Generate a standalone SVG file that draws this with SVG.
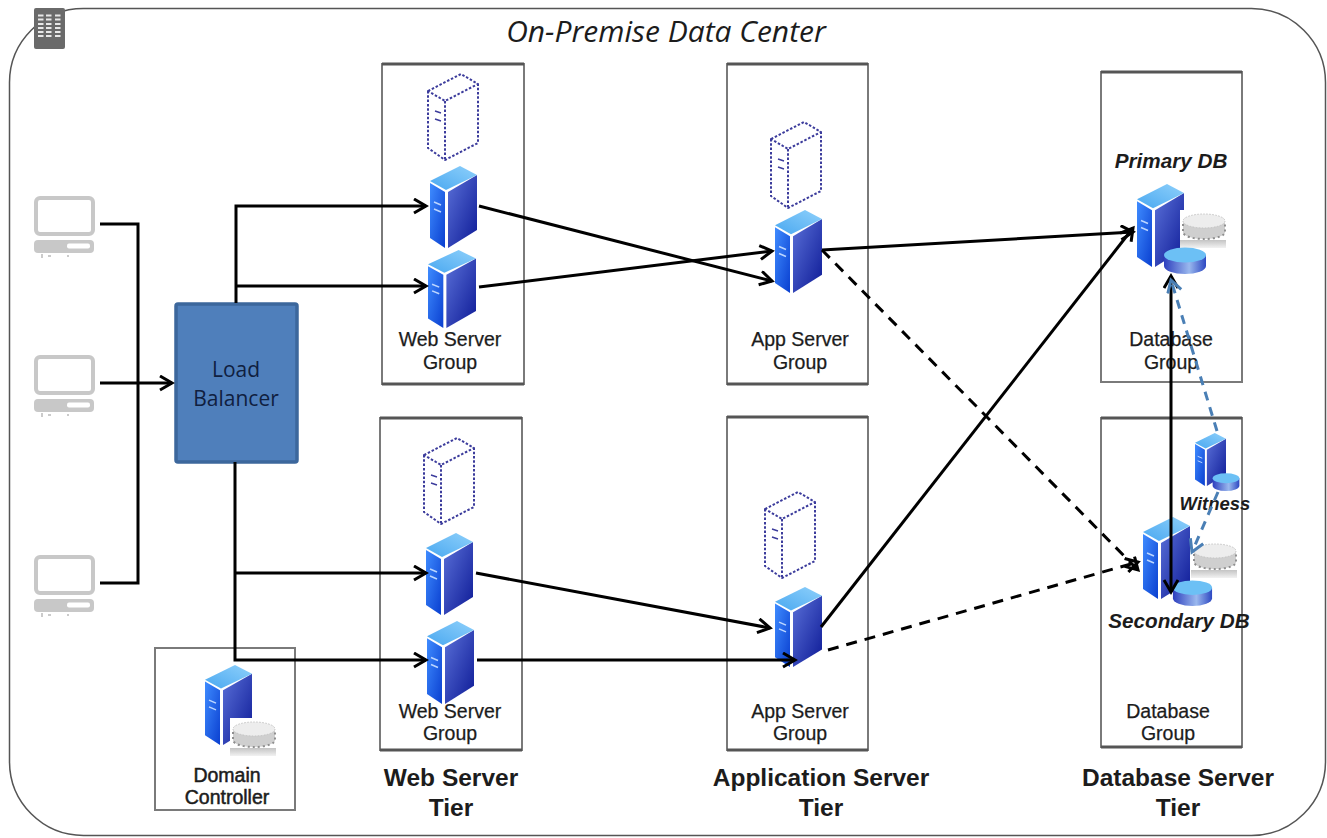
<svg xmlns="http://www.w3.org/2000/svg" width="1327" height="838" viewBox="0 0 1327 838">
<style>
text{font-family:"Liberation Sans",Arial,sans-serif;fill:#1c1c1c;text-anchor:middle}
.lbl{font-size:19.500px;stroke:#1c1c1c;stroke-width:.25}
.ctl{font-size:19.500px;stroke:#1c1c1c;stroke-width:.5}
.tier{font-size:24.500px;font-weight:bold}
.db{font-size:20.700px;font-weight:bold;font-style:italic}
.wit{font-size:18.500px;font-weight:bold;font-style:italic}
.title{font-family:"Open Sans",sans-serif;font-size:30px;font-style:italic}
.lb{font-family:"Open Sans",sans-serif;font-size:21px;fill:#10203f}
.frame{fill:#fff;stroke:#7a7a7a;stroke-width:2}
.frametop{stroke:#555;stroke-width:3;fill:none}
.c{fill:none;stroke:#000;stroke-width:3}
.d{stroke-dasharray:11 8}
.b{fill:none;stroke:#4a7fb5;stroke-width:3;stroke-dasharray:9 7}
</style>
<defs>
<linearGradient id="gl" x1="0" y1="0" x2="1" y2="1"><stop offset="0" stop-color="#3f8cff"/><stop offset="1" stop-color="#0a3fd0"/></linearGradient>
<linearGradient id="gr" x1="0" y1="0" x2="1" y2="1"><stop offset="0" stop-color="#5a70d8"/><stop offset="1" stop-color="#0d1a96"/></linearGradient>
<linearGradient id="gt" x1="0" y1="1" x2="1" y2="0"><stop offset="0" stop-color="#4aa8f0"/><stop offset="1" stop-color="#8ed0fb"/></linearGradient>
<linearGradient id="gd" x1="0" y1="0" x2="1" y2="0"><stop offset="0" stop-color="#2d3fbe"/><stop offset=".6" stop-color="#9ab8ee"/><stop offset="1" stop-color="#2d48c2"/></linearGradient>
<linearGradient id="gs" x1="0" y1="0" x2="0" y2="1"><stop offset="0" stop-color="#c4c4c4"/><stop offset="1" stop-color="#f2f2f2"/></linearGradient>
<marker id="a" markerWidth="20" markerHeight="20" refX="14" refY="8" orient="auto" markerUnits="userSpaceOnUse"><path d="M2 1 L14 8 L2 15" fill="none" stroke="#000" stroke-width="3"/></marker>
<marker id="ab" markerWidth="20" markerHeight="20" refX="14" refY="8" orient="auto" markerUnits="userSpaceOnUse"><path d="M2 1 L14 8 L2 15" fill="none" stroke="#4a7fb5" stroke-width="3"/></marker>
<marker id="as" markerWidth="20" markerHeight="20" refX="14" refY="8" orient="auto-start-reverse" markerUnits="userSpaceOnUse"><path d="M2 1 L14 8 L2 15" fill="none" stroke="#000" stroke-width="3"/></marker>
<symbol id="srv" viewBox="0 0 47 82" width="47" height="82" preserveAspectRatio="none">
<polygon points="0,17 15,26 15,82 0,72" fill="url(#gl)"/>
<polygon points="18,26 47,9 47,64 18,82" fill="url(#gr)"/>
<polygon points="0,15 30,0 47,9 16,24" fill="url(#gt)"/>
<path d="M4 36 L11 39 M4 43 L11 46" stroke="#bcd6ff" stroke-width="1.500"/>
</symbol>
<symbol id="dsh" viewBox="0 0 52 88" width="52" height="88">
<path d="M1 18 L34 1 L51 11 L18 28 Z M1 18 V75 L18 87 L51 70 V11 M18 28 V87" fill="none" stroke="#3c3c9c" stroke-width="2" stroke-dasharray="2.500 1.800"/>
<path d="M8 38 L14 40 M8 46 L14 48" stroke="#3c3c9c" stroke-width="1.500"/>
</symbol>
<symbol id="disk" viewBox="0 0 44 27" width="44" height="27" preserveAspectRatio="none">
<path d="M1 8 V19 A21 8 0 0 0 43 19 V8 Z" fill="url(#gd)"/>
<ellipse cx="22" cy="8" rx="21" ry="7.500" fill="#6cc0f5"/>
</symbol>
<symbol id="gdisk" viewBox="0 0 48 38" width="48" height="38">
<rect x="0" y="0" width="48" height="30" fill="#fff"/>
<rect x="0" y="30" width="46" height="8" fill="url(#gs)"/>
<path d="M3 11 V22 A21 7 0 0 0 45 22 V11 Z" fill="#cfcfcf"/>
<path d="M3 14 V22 A21 7 0 0 0 45 22 V14" fill="none" stroke="#8f8f8f" stroke-width="2" stroke-dasharray="2 3"/>
<ellipse cx="24" cy="11" rx="21" ry="7" fill="#ededed" stroke="#c4c4c4" stroke-dasharray="1.500 1.500"/>
</symbol>
<symbol id="pc" viewBox="0 0 62 62" width="62" height="62">
<rect x="2" y="2" width="57" height="36" rx="4" fill="#fff" stroke="#c8c8c8" stroke-width="4"/>
<rect x="0" y="44" width="60" height="13" rx="4" fill="#c8c8c8"/>
<rect x="33" y="47.500" width="23" height="5" rx="2" fill="#fff"/>
<path d="M8 58 V62 M14 60 H17 M33 60 H35" stroke="#bbb" stroke-width="1.500"/>
</symbol>
</defs>
<rect width="1327" height="838" fill="#fff"/>
<rect id="dc-border" x="9.500" y="8.500" width="1316" height="827" rx="74" ry="74" fill="#fff" stroke="#555" stroke-width="1.500"/>
<text class="title" x="666" y="42">On-Premise Data Center</text>
<g id="corner-icon"><rect x="34" y="8" width="31" height="41" rx="2" fill="#6a6a6a"/><path d="M38 15.500 H43.500 M46 15.500 H51.500 M55 15.500 H60.500 M38 19.500 H43.500 M46 19.500 H51.500 M55 19.500 H60.500 M38 24 H43.500 M46 24 H51.500 M55 24 H60.500 M38 28 H43.500 M46 28 H51.500 M55 28 H60.500 M38 32 H43.500 M46 32 H51.500 M55 32 H60.500 M38 36 H43.500 M46 36 H51.500 M55 36 H60.500" stroke="#e8e8e8" stroke-width="2"/></g>

<g id="web-group-1"><rect class="frame" x="382" y="64" width="142" height="320"/><path class="frametop" d="M382 64 H524 M382 384 H524"/><use href="#dsh" x="427" y="73"/><use href="#srv" x="430" y="166"/><use href="#srv" x="428" y="250" width="48" height="78"/><text class="lbl" x="450" y="346">Web Server</text><text class="lbl" x="450" y="369">Group</text></g>
<g id="app-group-1"><rect class="frame" x="727" y="64" width="141" height="320"/><path class="frametop" d="M727 64 H868 M727 384 H868"/><use href="#dsh" x="770" y="121"/><use href="#srv" x="775" y="210" height="83"/><text class="lbl" x="800" y="346">App Server</text><text class="lbl" x="800" y="369">Group</text></g>
<g id="db-group-1"><rect class="frame" x="1101" y="72" width="141" height="310"/><path class="frametop" d="M1101 72 H1242"/><text class="db" x="1171" y="168">Primary DB</text><use href="#srv" x="1137" y="184" height="83"/><use href="#gdisk" x="1180" y="210"/><use href="#disk" x="1163" y="247"/><text class="lbl" x="1171" y="346">Database</text><text class="lbl" x="1171" y="369">Group</text></g>
<g id="web-group-2"><rect class="frame" x="380" y="418" width="142" height="332"/><path class="frametop" d="M380 418 H522 M380 750 H522"/><use href="#dsh" x="423" y="437"/><use href="#srv" x="426" y="533"/><use href="#srv" x="427" y="621" height="83"/><text class="lbl" x="450" y="718">Web Server</text><text class="lbl" x="450" y="740">Group</text></g>
<g id="app-group-2"><rect class="frame" x="727" y="417" width="141" height="333"/><path class="frametop" d="M727 417 H868 M727 750 H868"/><use href="#dsh" x="764" y="491"/><use href="#srv" x="775" y="587" height="80"/><text class="lbl" x="800" y="718">App Server</text><text class="lbl" x="800" y="740">Group</text></g>
<g id="db-group-2"><rect class="frame" x="1101" y="418" width="141" height="329"/><path class="frametop" d="M1101 418 H1242 M1101 747 H1242"/><use href="#srv" x="1143" y="517"/><use href="#gdisk" x="1191" y="540"/><use href="#disk" x="1172" y="580" width="41" height="26"/><use href="#srv" x="1195" y="433" width="31" height="53"/><use href="#disk" x="1212" y="473" width="28" height="18"/><text class="wit" x="1215" y="510">Witness</text><text class="db" x="1179" y="628">Secondary DB</text><text class="lbl" x="1168" y="718">Database</text><text class="lbl" x="1168" y="740">Group</text></g>
<g id="domain-controller"><rect class="frame" x="155" y="648" width="140" height="162" stroke-width="1.500"/><use href="#srv" x="205" y="665" height="80"/><use href="#gdisk" x="230" y="718"/><text class="ctl" x="227" y="782">Domain</text><text class="ctl" x="227" y="804">Controller</text></g>
<g id="load-balancer"><rect x="176" y="304" width="121" height="158" rx="2" fill="#4f7fbb" stroke="#3c679c" stroke-width="3.500"/><text class="lb" x="236" y="377">Load</text><text class="lb" x="236" y="406">Balancer</text></g>
<g id="clients"><use href="#pc" x="34" y="196"/><use href="#pc" x="34" y="355"/><use href="#pc" x="34" y="555"/></g>

<g id="connectors">
<path class="c" d="M100 224 H138 V583 H100"/>
<path class="c" d="M100 383 H172" marker-end="url(#a)"/>
<path class="c" d="M236 303 V206 H426" marker-end="url(#a)"/>
<path class="c" d="M236 286 H426" marker-end="url(#a)"/>
<path class="c" d="M235 462 V660 H426" marker-end="url(#a)"/>
<path class="c" d="M235 573 H426" marker-end="url(#a)"/>
<path class="c" d="M479 206 L772 281" marker-end="url(#a)"/>
<path class="c" d="M479 287 L772 251" marker-end="url(#a)"/>
<path class="c" d="M822 250 L1133 232" marker-end="url(#a)"/>
<path class="c d" d="M822 250 L1138 570" marker-end="url(#a)"/>
<path class="c" d="M476 573 L770 628" marker-end="url(#a)"/>
<path class="c" d="M477 660 H795" marker-end="url(#a)"/>
<path class="c" d="M821 627 L1133 228" marker-end="url(#a)"/>
<path class="c d" d="M828 650 L1138 562" marker-end="url(#a)"/>
<path class="c" d="M1171 276 V592" marker-start="url(#as)" marker-end="url(#as)"/>
<path class="b" d="M1217 431 L1171 280" marker-end="url(#ab)"/>
<path class="b" d="M1218 492 L1192 552" marker-end="url(#ab)"/>
</g>
<text class="tier" x="451" y="786">Web Server</text><text class="tier" x="451" y="816">Tier</text>
<text class="tier" x="821" y="786">Application Server</text><text class="tier" x="821" y="816">Tier</text>
<text class="tier" x="1178" y="786">Database Server</text><text class="tier" x="1178" y="816">Tier</text>
</svg>
